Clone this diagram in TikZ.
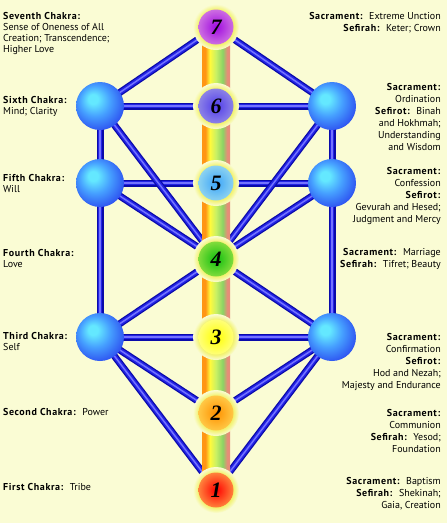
\documentclass[tikz,border=0pt]{standalone}
\usepackage{fontspec}
\setmainfont{PT Sans}[BoldFeatures={LetterSpace=6}]
\newfontfamily\numfont{Liberation Serif}
\definecolor{bg}{RGB}{250,252,212}
\definecolor{sphHi}{RGB}{100,232,255}
\definecolor{sphMid}{RGB}{70,160,255}
\definecolor{sphEdge}{RGB}{45,80,240}
\definecolor{glow}{RGB}{242,242,110}
\definecolor{lnDark}{RGB}{10,10,170}
\definecolor{lnMid}{RGB}{35,35,230}
\definecolor{lnHi}{RGB}{115,115,255}
\definecolor{rbO}{RGB}{255,150,20}
\definecolor{rbY}{RGB}{255,250,60}
\definecolor{rbLG}{RGB}{200,240,100}
\definecolor{rbG}{RGB}{140,210,100}
\definecolor{rbS}{RGB}{230,140,120}
\pgfdeclareradialshading{spheresh}{\pgfpoint{-8bp}{8bp}}{color(0bp)=(sphHi); color(5bp)=(sphHi); color(16bp)=(sphMid); color(30bp)=(sphEdge); color(50bp)=(sphEdge)}
\pgfdeclareradialshading{halosh}{\pgfpointorigin}{color(0bp)=(glow); color(19bp)=(glow); color(25bp)=(bg); color(50bp)=(bg)}
\pgfdeclarehorizontalshading{rainbow}{100bp}{color(0bp)=(rbO); color(25bp)=(rbO); color(31bp)=(rbO); color(39bp)=(rbY); color(50bp)=(rbLG); color(62bp)=(rbG); color(70bp)=(rbS); color(75bp)=(rbS); color(100bp)=(rbS)}
\newcommand{\gap}{\hspace{6pt}}
\tikzset{
  bluel/.style={draw=lnDark, line width=7pt, postaction={draw=lnMid, line width=4.5pt}, postaction={draw=lnHi, line width=1.5pt}},
  sphere/.style={circle, minimum size=48pt, inner sep=0pt, shading=spheresh},
  halo/.style={circle, minimum size=46pt, inner sep=0pt, shading=halosh},
  core/.style 2 args={circle, minimum size=35pt, inner sep=0pt, shading=radial, inner color=#1, outer color=#2, font=\numfont\bfseries\itshape\fontsize{22}{22}\selectfont},
  lefttxt/.style={anchor=north west, inner sep=0pt, align=left, font=\fontsize{10}{11}\selectfont},
  righttxt/.style={anchor=north east, inner sep=0pt, align=right, font=\fontsize{10}{12}\selectfont},
}
\begin{document}
\begin{tikzpicture}[x=1pt,y=-1pt]
\useasboundingbox (0,0) rectangle (447,523);
\fill[bg] (0,0) rectangle (447,523);
% positions
\coordinate (p7) at (216,27);
\coordinate (p6) at (216,106);
\coordinate (p5) at (216,183);
\coordinate (p4) at (216,259);
\coordinate (p3) at (216,337);
\coordinate (p2) at (216,413);
\coordinate (p1) at (216,490);
\coordinate (L6) at (100,106);
\coordinate (L5) at (100,183);
\coordinate (L3) at (100,337);
\coordinate (R6) at (332,106);
\coordinate (R5) at (332,183);
\coordinate (R3) at (332,337);
% connectors
\foreach \a/\b in {p7/L6,p7/R6,L6/p6,R6/p6,L5/p5,R5/p5,L3/p3,R3/p3,L6/p4,R6/p4,L5/p4,R5/p4,L3/p4,R3/p4,L3/p2,R3/p2,L3/p1,R3/p1,L6/L3,R6/R3}
  \draw[bluel] (\a) -- (\b);
% rainbow column
\shade[shading=rainbow] (202,27) rectangle (230,490);
% spheres
\foreach \s in {L6,L5,L3,R6,R5,R3}
  \node[sphere] (s\s) at (\s) {};
% chakras
\foreach \n/\ci/\co in {7/{rgb,255:red,160;green,10;blue,225}/{rgb,255:red,205;green,110;blue,225},
  6/{rgb,255:red,80;green,60;blue,235}/{rgb,255:red,140;green,130;blue,230},
  5/{rgb,255:red,60;green,165;blue,250}/{rgb,255:red,140;green,210;blue,240},
  4/{rgb,255:red,15;green,190;blue,15}/{rgb,255:red,130;green,220;blue,60},
  3/{rgb,255:red,255;green,255;blue,0}/{rgb,255:red,255;green,255;blue,120},
  2/{rgb,255:red,255;green,145;blue,0}/{rgb,255:red,255;green,200;blue,70},
  1/{rgb,255:red,255;green,0;blue,0}/{rgb,255:red,255;green,130;blue,60}}{
  \node[halo] (h\n) at (p\n) {};
  \node[core={\ci}{\co}] (c\n) at (p\n) {\n};
}
% left texts
\node[lefttxt] (t7) at (3,12) {\textbf{Seventh Chakra:}\\Sense of Oneness of All\\Creation; Transcendence;\\Higher Love};
\node[lefttxt] (t6) at (3,96) {\textbf{Sixth Chakra:}\\Mind; Clarity};
\node[lefttxt] (t5) at (3,174) {\textbf{Fifth Chakra:}\\Will};
\node[lefttxt] (t4) at (3,249) {\textbf{Fourth Chakra:}\\Love};
\node[lefttxt] (t3) at (3,332) {\textbf{Third Chakra:}\\Self};
\node[lefttxt] (t2) at (3,408) {\textbf{Second Chakra:}\gap Power};
\node[lefttxt] (t1) at (3,483) {\textbf{First Chakra:}\gap Tribe};
% right texts
\node[righttxt] (r7) at (441,12) {\textbf{Sacrament:}\gap Extreme Unction\\\textbf{Sefirah:}\gap Keter; Crown};
\node[righttxt] (r6) at (441,83) {\textbf{Sacrament:}\\Ordination\\\textbf{Sefirot:}\gap Binah\\and Hokhmah;\\Understanding\\and Wisdom};
\node[righttxt] (r5) at (441,167) {\textbf{Sacrament:}\\Confession\\\textbf{Sefirot:}\\Gevurah and Hesed;\\Judgment and Mercy};
\node[righttxt] (r4) at (441,248) {\textbf{Sacrament:}\gap Marriage\\\textbf{Sefirah:}\gap Tifret; Beauty};
\node[righttxt] (r3) at (441,333) {\textbf{Sacrament:}\\Confirmation\\\textbf{Sefirot:}\\Hod and Nezah;\\Majesty and Endurance};
\node[righttxt] (r2) at (441,409) {\textbf{Sacrament:}\\Communion\\\textbf{Sefirah:}\gap Yesod;\\Foundation};
\node[righttxt] (r1) at (441,477) {\textbf{Sacrament:}\gap Baptism\\\textbf{Sefirah:}\gap Shekinah;\\Gaia, Creation};
\end{tikzpicture}
\end{document}
